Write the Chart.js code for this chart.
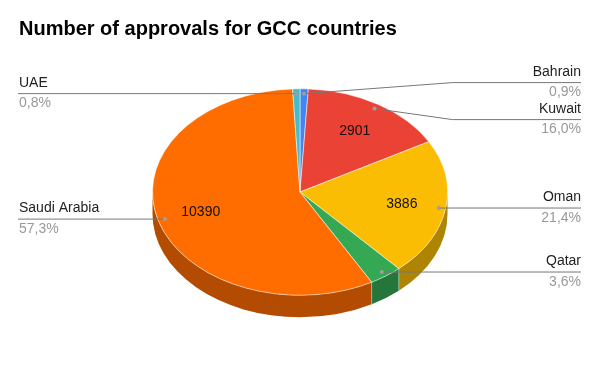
<!DOCTYPE html>
<html>
<head>
<meta charset="utf-8">
<script src="https://cdn.jsdelivr.net/npm/chart.js@4/dist/chart.umd.min.js"></script>
<style>
  html, body { margin: 0; padding: 0; background: #fff; }
  #wrap { width: 600px; height: 371px; }
</style>
</head>
<body>
<div id="wrap"><canvas id="myChart" width="600" height="371"></canvas></div>
<script>
// data
const countries = ['Bahrain', 'Kuwait', 'Oman', 'Qatar', 'Saudi Arabia', 'UAE'];
const approvals = [163, 2901, 3886, 653, 10390, 145];
const sliceColors = ['#4285F4', '#EA4335', '#FBBC04', '#34A853', '#FF6D01', '#46BDC6'];

const tilt = 0.7;   // vertical squash of the pie
const depth = 22;   // height of the side wall
const fontFamily = '"Liberation Sans", Arial, sans-serif';
const labelFont = '14px ' + fontFamily;

function shade(hex, f) {
    let n = parseInt(hex.slice(1), 16);
    let r = Math.round(((n >> 16) & 255) * f);
    let g = Math.round(((n >> 8) & 255) * f);
    let b = Math.round((n & 255) * f);
    return 'rgb(' + r + ',' + g + ',' + b + ')';
}

function pct(v) {
    let total = approvals.reduce((a, b) => a + b, 0);
    return (v / total * 100).toFixed(1).replace('.', ',') + '%';
}

// spread labels on one side so they don't overlap
function spread(items, gap) {
    items.sort((a, b) => a.dotY - b.dotY);
    let clusters = items.map(it => ({ items: [it], center: it.dotY }));
    let merged = true;
    while (merged) {
        merged = false;
        for (let i = 0; i < clusters.length - 1; i++) {
            let a = clusters[i], b = clusters[i + 1];
            let aBottom = a.center + (a.items.length - 1) * gap / 2;
            let bTop = b.center - (b.items.length - 1) * gap / 2;
            if (bTop - aBottom < gap) {
                let all = a.items.concat(b.items);
                clusters.splice(i, 2, {
                    items: all,
                    center: all.reduce((s, it) => s + it.dotY, 0) / all.length
                });
                merged = true;
                break;
            }
        }
    }
    clusters.forEach(c => {
        let top = c.center - (c.items.length - 1) * gap / 2;
        c.items.forEach((it, k) => { it.lineY = top + k * gap; });
    });
}

const pie3d = {
    id: 'pie3d',
    beforeDatasetsDraw(chart) {
        let ctx = chart.ctx;
        let arcs = chart.getDatasetMeta(0).data;
        let cx = arcs[0].x, cy = arcs[0].y, R = arcs[0].outerRadius;
        ctx.save();
        arcs.forEach((arc, i) => {
            let a1 = Math.max(arc.startAngle, 0);
            let a2 = Math.min(arc.endAngle, Math.PI);
            if (a2 <= a1) return;
            ctx.beginPath();
            ctx.ellipse(cx, cy, R, R * tilt, 0, a1, a2);
            ctx.ellipse(cx, cy + depth, R, R * tilt, 0, a2, a1, true);
            ctx.closePath();
            ctx.fillStyle = shade(sliceColors[i], 0.7);
            ctx.fill();
        });
        ctx.strokeStyle = 'rgba(255,255,255,0.35)';
        ctx.lineWidth = 1;
        arcs.forEach(arc => {
            let a = arc.endAngle;
            if (a > 0 && a < Math.PI) {
                let x = cx + R * Math.cos(a), y = cy + R * tilt * Math.sin(a);
                ctx.beginPath();
                ctx.moveTo(x, y);
                ctx.lineTo(x, y + depth);
                ctx.stroke();
            }
        });
        ctx.restore();
        // squash the top face
        ctx.save();
        ctx.translate(0, cy);
        ctx.scale(1, tilt);
        ctx.translate(0, -cy);
    },
    afterDatasetsDraw(chart) {
        let ctx = chart.ctx;
        ctx.restore();
        let arcs = chart.getDatasetMeta(0).data;
        let cx = arcs[0].x, cy = arcs[0].y, R = arcs[0].outerRadius;
        let total = approvals.reduce((a, b) => a + b, 0);
        let left = [], right = [];

        arcs.forEach((arc, i) => {
            let mid = (arc.startAngle + arc.endAngle) / 2;
            // value inside slice
            if (approvals[i] / total > 0.05) {
                ctx.font = labelFont;
                ctx.fillStyle = '#111';
                ctx.textAlign = 'center';
                ctx.textBaseline = 'middle';
                ctx.fillText(String(approvals[i]),
                    cx + 0.7 * R * Math.cos(mid),
                    cy + 0.7 * R * tilt * Math.sin(mid));
            }
            let it = {
                i: i,
                dotX: cx + 0.953 * R * Math.cos(mid),
                dotY: cy + 0.953 * R * tilt * Math.sin(mid)
            };
            if (Math.cos(mid) >= 0) right.push(it); else left.push(it);
        });
        spread(right, 37);
        spread(left, 37);

        function drawSide(items, isRight) {
            let endX = isRight ? 581 : 18;
            let elbowX = isRight ? cx + R + 5 : cx - R - 5;
            items.forEach(it => {
                ctx.strokeStyle = '#777';
                ctx.lineWidth = 1;
                ctx.beginPath();
                ctx.moveTo(it.dotX, it.dotY);
                if (Math.abs(it.lineY - it.dotY) > 0.5) ctx.lineTo(elbowX, it.lineY);
                ctx.lineTo(endX, it.lineY);
                ctx.stroke();
                ctx.fillStyle = '#9e9e9e';
                ctx.beginPath();
                ctx.arc(it.dotX, it.dotY, 2, 0, Math.PI * 2);
                ctx.fill();

                ctx.font = labelFont;
                ctx.textAlign = isRight ? 'right' : 'left';
                ctx.textBaseline = 'middle';
                let tx = isRight ? endX : endX + 1;
                ctx.fillStyle = '#222';
                ctx.fillText(countries[it.i], tx, it.lineY - 10.5);
                ctx.fillStyle = '#999';
                ctx.fillText(pct(approvals[it.i]), tx, it.lineY + 10);
            });
        }
        drawSide(right, true);
        drawSide(left, false);
    }
};

new Chart(document.getElementById('myChart'), {
    type: 'pie',
    data: {
        labels: countries,
        datasets: [{
            data: approvals,
            backgroundColor: sliceColors,
            borderColor: 'rgba(255,255,255,0.6)',
            borderWidth: 1,
            clip: false
        }]
    },
    options: {
        responsive: false,
        animation: false,
        layout: { padding: { left: 19, right: 19, top: 0, bottom: 31 } },
        plugins: {
            legend: { display: false },
            tooltip: { enabled: false },
            title: {
                display: true,
                text: 'Number of approvals for GCC countries',
                align: 'start',
                color: '#000',
                font: { family: fontFamily, size: 20, weight: 'bold', lineHeight: 1.2 },
                padding: { top: 17.8, bottom: 2.2 }
            }
        }
    },
    plugins: [pie3d]
});
</script>
</body>
</html>
